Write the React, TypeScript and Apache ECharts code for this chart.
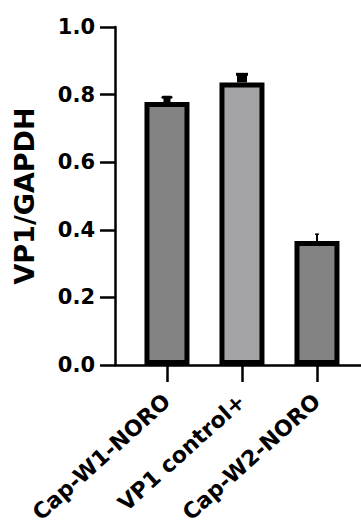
import React, { useEffect, useRef } from "react";
import * as echarts from "echarts";

const categories = ["Cap-W1-NORO", "VP1 control+", "Cap-W2-NORO"];
const values = [0.778, 0.836, 0.367];
const errors = [0.014, 0.024, 0.02];
const barColors = ["#838383", "#a4a4a8", "#838383"];

const FONT = "DejaVu Sans";

export default function App() {
  const ref = useRef<HTMLDivElement>(null);
  useEffect(() => {
    if (!ref.current) return;
    const chart = echarts.init(ref.current, null, { renderer: "svg" });
    const capW = [8, 12, 4];
    const stemW = [7, 10, 2];
    chart.setOption({
      animation: false,
      backgroundColor: "#ffffff",
      grid: { left: 115, right: 0, top: 27, bottom: 163 },
      xAxis: {
        type: "value",
        min: -0.693,
        max: 2.587,
        splitLine: { show: false },
        axisLine: { show: true, onZero: false, lineStyle: { color: "#000", width: 2.5 } },
        axisTick: { show: true, customValues: [0, 1, 2], length: 17, lineStyle: { color: "#000", width: 2.5 } },
        axisLabel: {
          customValues: [0, 1, 2],
          formatter: (v: number) => categories[Math.round(v)] ?? "",
          rotate: 42,
          margin: 33,
          color: "#000",
          fontFamily: FONT,
          fontWeight: "bold",
          fontSize: 22,
        },
      },
      yAxis: {
        type: "value",
        min: 0,
        max: 1,
        interval: 0.2,
        splitLine: { show: false },
        axisLine: { show: true, onZero: false, lineStyle: { color: "#000", width: 2.5 } },
        axisTick: { show: true, length: 15, lineStyle: { color: "#000", width: 2.5 } },
        axisLabel: {
          margin: 20,
          color: "#000",
          fontFamily: FONT,
          fontWeight: "bold",
          fontSize: 21,
          formatter: (v: number) => v.toFixed(1),
        },
        name: "VP1/GAPDH",
        nameLocation: "middle",
        nameGap: 77,
        nameTextStyle: { color: "#000", fontFamily: FONT, fontWeight: "bold", fontSize: 27 },
      },
      series: [
        {
          type: "bar",
          barWidth: 45,
          data: values.map((v, i) => ({
            value: [i, v],
            itemStyle: { color: barColors[i], borderColor: "#000", borderWidth: 5 },
          })),
        },
        {
          type: "custom",
          data: values.map((v, i) => [i, v, errors[i]]),
          renderItem: (params: any, api: any) => {
            const i = params.dataIndex;
            const x = api.value(0);
            const v = api.value(1);
            const e = api.value(2);
            const p0 = api.coord([x, v]);
            const p1 = api.coord([x, v + e]);
            return {
              type: "group",
              children: [
                {
                  type: "line",
                  shape: { x1: p0[0], y1: p0[1], x2: p1[0], y2: p1[1] },
                  style: { stroke: "#000", lineWidth: stemW[i] },
                },
                {
                  type: "line",
                  shape: { x1: p1[0] - capW[i] / 2, y1: p1[1], x2: p1[0] + capW[i] / 2, y2: p1[1] },
                  style: { stroke: "#000", lineWidth: i === 2 ? 1.5 : 3, lineCap: i === 0 ? "round" : "butt" },
                },
              ],
            };
          },
          z: 3,
        },
      ],
    });
    return () => chart.dispose();
  }, []);
  return (
    <div
      ref={ref}
      style={{ position: "fixed", left: 0, top: 0, width: 361, height: 528 }}
    />
  );
}
